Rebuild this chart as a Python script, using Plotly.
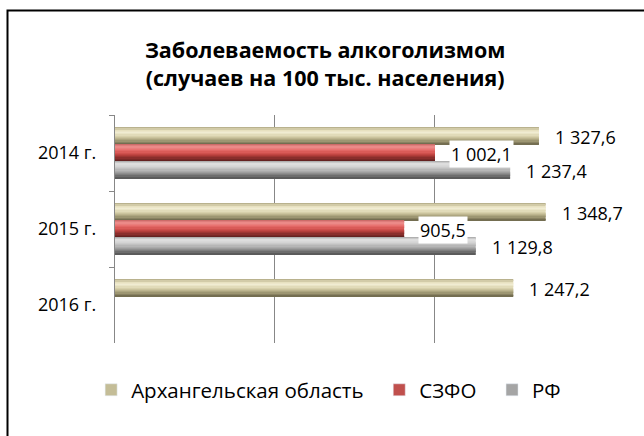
import plotly.graph_objects as go

# ---- data ----
categories = ["2014 г.", "2015 г.", "2016 г."]
series_names = ["Архангельская область", "СЗФО", "РФ"]
arkh = [1327.6, 1348.7, 1247.2]
szfo = [1002.1, 905.5, None]
rf = [1237.4, 1129.8, None]
x_ticks = [0, 500, 1000, 1500]

series_values = [arkh, szfo, rf]

# ---- styles ----
FONT = "Open Sans"
legend_colors = ["#C4BD97", "#C0504D", "#A5A5A5"]
legend_pad = ["\u00a0\u00a0", "\u00a0\u00a0", ""]
gradients = [
    ["#ADA680", "#E6E0BF", "#F1EDD3", "#DDD6B2", "#C0B891", "#9A9370", "#6A6449"],
    ["#C46260", "#EC8C8A", "#E9716F", "#D65552", "#B53E3B", "#872D2B", "#5A1E1D"],
    ["#A4A4A4", "#DEDEDE", "#D3D3D3", "#BCBCBC", "#A0A0A0", "#7C7C7C", "#525252"],
]
N_STRIPS = 14
BAR_W = 0.222
GROUP_START = -0.333


def hex2rgb(h):
    h = h.lstrip("#")
    return [int(h[i:i + 2], 16) for i in (0, 2, 4)]


def interp(stops, t):
    pos = t * (len(stops) - 1)
    i = min(int(pos), len(stops) - 2)
    f = pos - i
    a, b = hex2rgb(stops[i]), hex2rgb(stops[i + 1])
    c = [round(a[k] + (b[k] - a[k]) * f) for k in range(3)]
    return "rgb(%d,%d,%d)" % tuple(c)


fig = go.Figure()

for si, (name, vals) in enumerate(zip(series_names, series_values)):
    strip_w = BAR_W / N_STRIPS
    for k in range(N_STRIPS):
        fig.add_trace(go.Bar(
            y=categories, x=vals, orientation="h",
            offset=GROUP_START + si * BAR_W + k * strip_w,
            width=strip_w * 1.02,
            marker=dict(color=interp(gradients[si], (k + 0.5) / N_STRIPS), line=dict(width=0)),
            showlegend=False, hoverinfo="skip", legendgroup=name,
        ))
    # legend-only entry
    fig.add_trace(go.Bar(
        y=categories, x=[None] * len(categories), orientation="h",
        name=name + legend_pad[si], marker=dict(color=legend_colors[si]), legendgroup=name,
    ))

annotations = []
for si, vals in enumerate(series_values):
    for ci, v in enumerate(vals):
        if v is None:
            continue
        txt = f"{v:,.1f}".replace(",", " ").replace(".", ",")
        annotations.append(dict(
            x=v, y=ci + GROUP_START + si * BAR_W + BAR_W / 2 + 0.01,
            xref="x", yref="y", text=txt, showarrow=False,
            xanchor="left", xshift=14, bgcolor="white",
            font=dict(family=FONT, size=18, color="#000000"),
        ))

fig.update_layout(
    width=644, height=436,
    paper_bgcolor="white", plot_bgcolor="white",
    margin=dict(l=115, r=50, t=115, b=93, autoexpand=False),
    barmode="overlay",
    font=dict(family=FONT, color="#000000"),
    title=dict(
        text="<b>Заболеваемость алкоголизмом<br>(случаев на 100 тыс. населения)</b>",
        x=0.505, xanchor="center", y=1 - 58 / 436, yanchor="middle",
        font=dict(family=FONT, size=21.5, color="#000000"),
    ),
    xaxis=dict(
        range=[0, 1500], tickvals=x_ticks, showticklabels=False,
        showgrid=True, gridcolor="#878787", gridwidth=1.3,
        zeroline=False, showline=False, ticks="",
    ),
    yaxis=dict(
        type="category", autorange="reversed",
        showline=True, linecolor="#878787", linewidth=1.3,
        ticks="outside", tickson="boundaries", ticklen=5, tickcolor="#878787",
        showgrid=False, ticklabelstandoff=14,
        tickfont=dict(family=FONT, size=18, color="#000000"),
    ),
    legend=dict(
        orientation="h", x=0.446, xanchor="center", y=-0.206, yanchor="middle",
        font=dict(family=FONT, size=20.5, color="#000000"),
        traceorder="normal",
    ),
    annotations=annotations,
    shapes=[dict(
        type="rect", xref="paper", yref="paper",
        x0=(7.5 - 115) / 479, x1=(660 - 115) / 479,
        y0=(343 - 450) / 228, y1=(343 - 10.5) / 228,
        line=dict(color="#000000", width=2), layer="above",
    )],
)

fig.write_html(
    "out.html",
    config={"displayModeBar": False},
    post_script="document.body.style.margin='0';document.body.style.padding='0';",
)
